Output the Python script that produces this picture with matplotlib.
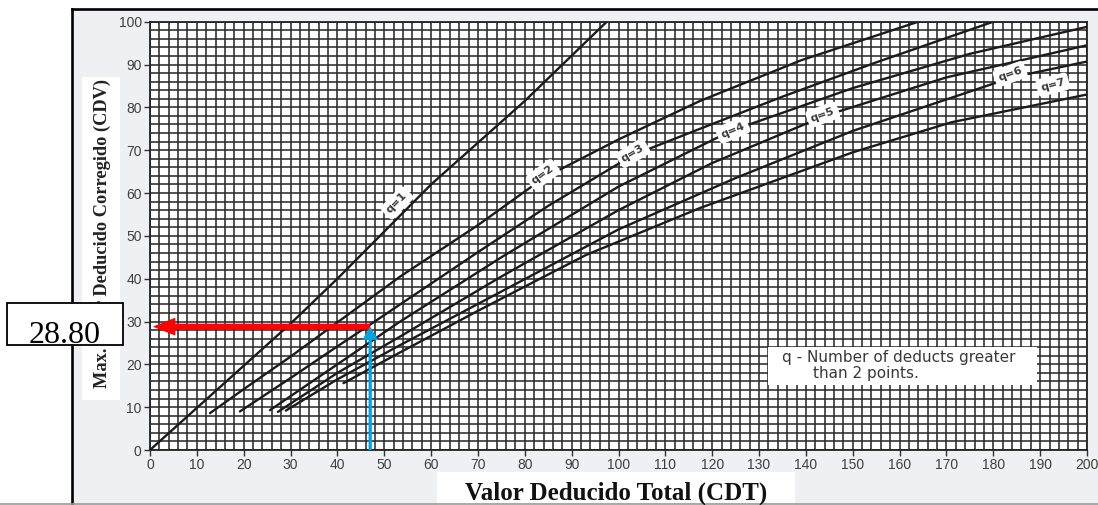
import matplotlib
matplotlib.use('Agg')
import matplotlib.pyplot as plt
from matplotlib.patches import Rectangle, FancyArrow
from matplotlib.lines import Line2D
import numpy as np

# curvas CDV (valor deducido total -> valor deducido corregido)
q1_x = [0, 30, 40, 60, 80, 97.5]
q1_y = [0, 29.5, 40, 62, 81.5, 100]
q2_x = [12.8, 20, 30, 40, 53.4, 70, 84, 100, 117.4, 139, 164]
q2_y = [8.6, 14.2, 21.8, 29.8, 40.5, 52.5, 63.5, 72.5, 81.5, 91, 100]
q3_x = [19.2, 30, 40, 47, 53.4, 70, 85, 103, 117.4, 135, 155, 180]
q3_y = [9, 16.8, 24.2, 29.3, 34, 46.2, 57, 68.8, 75, 82.5, 90.5, 100]
q4_x = [25.6, 40, 53.4, 75, 100, 124, 150, 175, 200]
q4_y = [9.3, 20, 30, 45, 61.5, 74.5, 84.5, 92.5, 98.8]
q5_x = [27.3, 40, 53.4, 75, 100, 120, 144, 170, 200]
q5_y = [8.9, 18, 26.5, 40.5, 56, 67, 78, 87, 94.5]
q6_x = [29, 40, 53.4, 75, 100, 125, 150, 184, 200]
q6_y = [9.2, 16.5, 24.5, 37, 51.5, 63.5, 74.5, 87, 90.7]
q7_x = [41.3, 53.4, 70, 93, 117.4, 150, 171, 200]
q7_y = [15.6, 22.8, 32.5, 45.5, 56.5, 69.5, 76.5, 83]

curvas_x = [q1_x, q2_x, q3_x, q4_x, q5_x, q6_x, q7_x]
curvas_y = [q1_y, q2_y, q3_y, q4_y, q5_y, q6_y, q7_y]

# etiquetas de cada curva
etiquetas = ['q=1', 'q=2', 'q=3', 'q=4', 'q=5', 'q=6', 'q=7']
etiq_x = [52.7, 83.9, 103.1, 124.4, 143.6, 183.6, 192.7]
etiq_y = [57.7, 64.3, 69.3, 74.7, 78.3, 87.8, 85.3]
etiq_rot = [46, 36, 31, 23, 20, 20, 15]

# lectura hecha sobre el grafico
cdt = 47
cdv = 28.8

W, H = 1098, 505
fig = plt.figure(figsize=(W / 100, H / 100), dpi=100)
fig.patch.set_facecolor('white')

def fx(px):
    return px / W

def fy(py):
    return 1 - py / H

# fondo del escaneo y marco
fig.add_artist(Rectangle((fx(72), 0), 1 - fx(72), fy(9), transform=fig.transFigure,
                         facecolor='#eef0f3', edgecolor='none', zorder=-10))
fig.add_artist(Rectangle((fx(82), fy(400)), fx(38), fy(77) - fy(400), transform=fig.transFigure,
                         facecolor='white', edgecolor='none', zorder=-9))
fig.add_artist(Rectangle((fx(437), 0), fx(358), fy(472), transform=fig.transFigure,
                         facecolor='white', edgecolor='none', zorder=-9))
fig.add_artist(Line2D([fx(72), 1], [fy(9), fy(9)], color='black', lw=1.9))
fig.add_artist(Line2D([fx(72), fx(72)], [0, fy(9)], color='black', lw=1.9))
fig.add_artist(Line2D([0, 1], [fy(503.8), fy(503.8)], color='#9a9a9a', lw=1.2))

ax = fig.add_axes([fx(150), fy(450), fx(937), fy(21.7) - fy(450)])
ax.set_facecolor('white')
ax.set_xlim(0, 200)
ax.set_ylim(0, 100)
ax.set_xticks(range(0, 201, 10))
ax.set_yticks(range(0, 101, 10))
ax.set_xticks(np.arange(0, 201, 2), minor=True)
ax.set_yticks(np.arange(0, 101, 2), minor=True)
ax.grid(which='both', color='#2a2a2a', lw=1.15, zorder=1)
ax.set_axisbelow(True)
ax.tick_params(which='minor', length=0)
ax.tick_params(which='major', length=4, width=1, color='#333333', labelsize=10,
               labelcolor='#404040', pad=2)
for lab in ax.get_xticklabels() + ax.get_yticklabels():
    lab.set_family('Liberation Sans')
for sp in ax.spines.values():
    sp.set_color('#222222')
    sp.set_linewidth(1.3)

for xs, ys in zip(curvas_x, curvas_y):
    ax.plot(xs, ys, color='#1c1c1c', lw=1.7, zorder=3, solid_capstyle='round')

for t, x, y, r in zip(etiquetas, etiq_x, etiq_y, etiq_rot):
    ax.text(x, y, t, rotation=r, rotation_mode='anchor', ha='center', va='center',
            fontsize=8, fontweight='bold', color='#3a3a3a', family='DejaVu Sans',
            bbox=dict(boxstyle='round,pad=0.35', fc='white', ec='none'), zorder=4)

# nota
ax.add_patch(Rectangle((131.9, 15.2), 57.4, 8.8, facecolor='white', edgecolor='none', zorder=4))
ax.text(134.9, 21.5, 'q - Number of deducts greater', ha='left', va='center', fontsize=11,
        color='#383838', family='DejaVu Sans', zorder=5)
ax.text(141.5, 17.9, 'than 2 points.', ha='left', va='center', fontsize=11,
        color='#383838', family='DejaVu Sans', zorder=5)

# flechas de lectura
ax.add_patch(FancyArrow(cdt, cdv, -(cdt - 0.6), 0, width=1.4, head_width=4.2, head_length=4.8,
                        length_includes_head=True, color='#ff0000', lw=0, zorder=6))
ax.add_patch(FancyArrow(cdt, 0, 0, cdv, width=0.7, head_width=3.4, head_length=3.1,
                        length_includes_head=True, color='#00a2e8', lw=0, zorder=6))

# titulos de ejes
fig.text(fx(102), fy(233), 'Max. Valor Deducido Corregido (CDV)', rotation=90, ha='center',
         va='center', fontsize=13.2, fontweight='bold', family='Liberation Serif', color='#222222')
fig.text(fx(616), fy(500), 'Valor Deducido Total (CDT)', ha='center', va='baseline',
         fontsize=18, fontweight='bold', family='Liberation Serif', color='#111111')

# recuadro con el valor leido (tapa parte del titulo, como en el original)
fig.add_artist(Rectangle((fx(7), fy(345)), fx(116), fy(303) - fy(345), transform=fig.transFigure,
                         facecolor='white', edgecolor='black', lw=1.3, zorder=5))
fig.text(fx(65), fy(343), '28.80', ha='center', va='baseline', fontsize=23,
         family='Liberation Serif', color='black', zorder=6)

fig.savefig('out.png', dpi=100)
